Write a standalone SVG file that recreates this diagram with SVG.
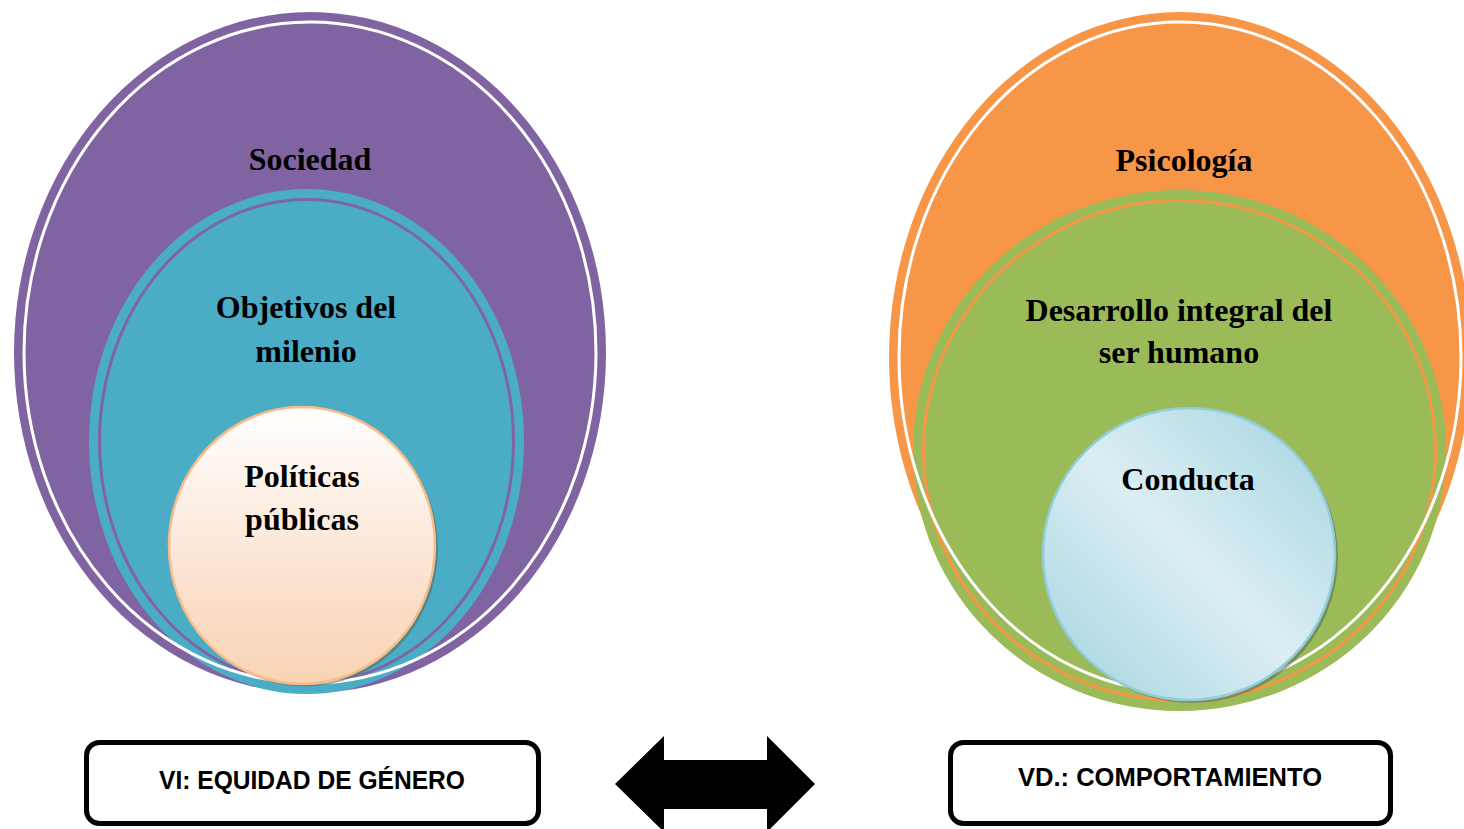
<svg xmlns="http://www.w3.org/2000/svg" width="1464" height="829" viewBox="0 0 1464 829">
<defs>
<linearGradient id="peach" x1="0" y1="0" x2="0" y2="1">
<stop offset="0" stop-color="#FFFFFF"/>
<stop offset="0.75" stop-color="#FADCC6"/>
<stop offset="1" stop-color="#F9D4B4"/>
</linearGradient>
<linearGradient id="blue" x1="0" y1="1" x2="1" y2="0">
<stop offset="0" stop-color="#A2D3E0"/>
<stop offset="0.5" stop-color="#DBEEF3"/>
<stop offset="1" stop-color="#A2D3E0"/>
</linearGradient>
<linearGradient id="blue2" x1="1" y1="1" x2="0" y2="0">
<stop offset="0" stop-color="#DBEEF3"/>
<stop offset="0.45" stop-color="#CBE6EE"/>
<stop offset="1" stop-color="#DBEEF3"/>
</linearGradient>
</defs>
<style>
.lbl{font-family:"Liberation Serif","Times New Roman",serif;font-weight:bold;font-size:32px;fill:#000;text-anchor:middle}
.box{fill:#fff;stroke:#000;stroke-width:5}
.btxt{font-family:"Liberation Sans",Arial,sans-serif;font-weight:bold;font-size:25px;fill:#000}
.shadow{fill:#5a6a5a;opacity:0.55}
</style>
<rect width="1464" height="829" fill="#fff"/>

<g id="sociedad">
<ellipse cx="310" cy="352.5" rx="296" ry="340.5" fill="#8064A2"/>
</g>
<g id="objetivos">
<ellipse cx="306.5" cy="441.5" rx="217.5" ry="252.5" fill="#4BACC6"/>
<ellipse cx="306.5" cy="441.5" rx="207" ry="242" fill="none" stroke="#8064A2" stroke-width="3"/>
</g>
<g id="sociedad-ring">
<ellipse cx="310" cy="352.5" rx="286" ry="330.5" fill="none" stroke="#fff" stroke-width="3"/>
<text class="lbl" x="310" y="170">Sociedad</text>
<text class="lbl" x="306" y="318">Objetivos del</text>
<text class="lbl" x="306" y="362">milenio</text>
</g>
<g id="politicas">
<ellipse cx="305" cy="548" rx="133" ry="138.5" class="shadow"/>
<ellipse cx="302" cy="545.5" rx="133" ry="138.5" fill="url(#peach)" stroke="#F8BC8A" stroke-width="2.5"/>
<text class="lbl" x="302" y="487">Políticas</text>
<text class="lbl" x="302" y="530">públicas</text>
</g>

<g id="psicologia">
<ellipse cx="1180" cy="357" rx="291" ry="345" fill="#F79646"/>
</g>
<g id="desarrollo">
<ellipse cx="1179.5" cy="450.5" rx="266.5" ry="260.5" fill="#9BBB59"/>
<ellipse cx="1179.5" cy="450.5" rx="256" ry="250" fill="none" stroke="#F79646" stroke-width="3"/>
</g>
<g id="psicologia-ring">
<ellipse cx="1180" cy="357" rx="281" ry="335" fill="none" stroke="#fff" stroke-width="3"/>
<text class="lbl" x="1184" y="171">Psicología</text>
<text class="lbl" x="1179" y="321">Desarrollo integral del</text>
<text class="lbl" x="1179" y="363">ser humano</text>
</g>
<g id="conducta">
<ellipse cx="1192" cy="557" rx="146" ry="146" class="shadow"/>
<ellipse cx="1189" cy="554" rx="146" ry="146" fill="url(#blue)" stroke="#92CDDC" stroke-width="2.5"/>
<text class="lbl" x="1188" y="490">Conducta</text>
</g>

<g id="vi">
<rect class="box" x="86.5" y="742.5" width="452" height="81" rx="13"/>
<text class="btxt" x="159" y="789" textLength="306" lengthAdjust="spacingAndGlyphs">VI: EQUIDAD DE GÉNERO</text>
</g>
<g id="vd">
<rect class="box" x="950.5" y="742.5" width="440" height="81" rx="13"/>
<text class="btxt" x="1018" y="786" textLength="304" lengthAdjust="spacingAndGlyphs">VD.: COMPORTAMIENTO</text>
</g>

<g id="connectors">
<polygon points="615,784 664,736 664,760 767,760 767,736 815,784 767,832 767,809 664,809 664,832" fill="#000"/>
</g>
</svg>
